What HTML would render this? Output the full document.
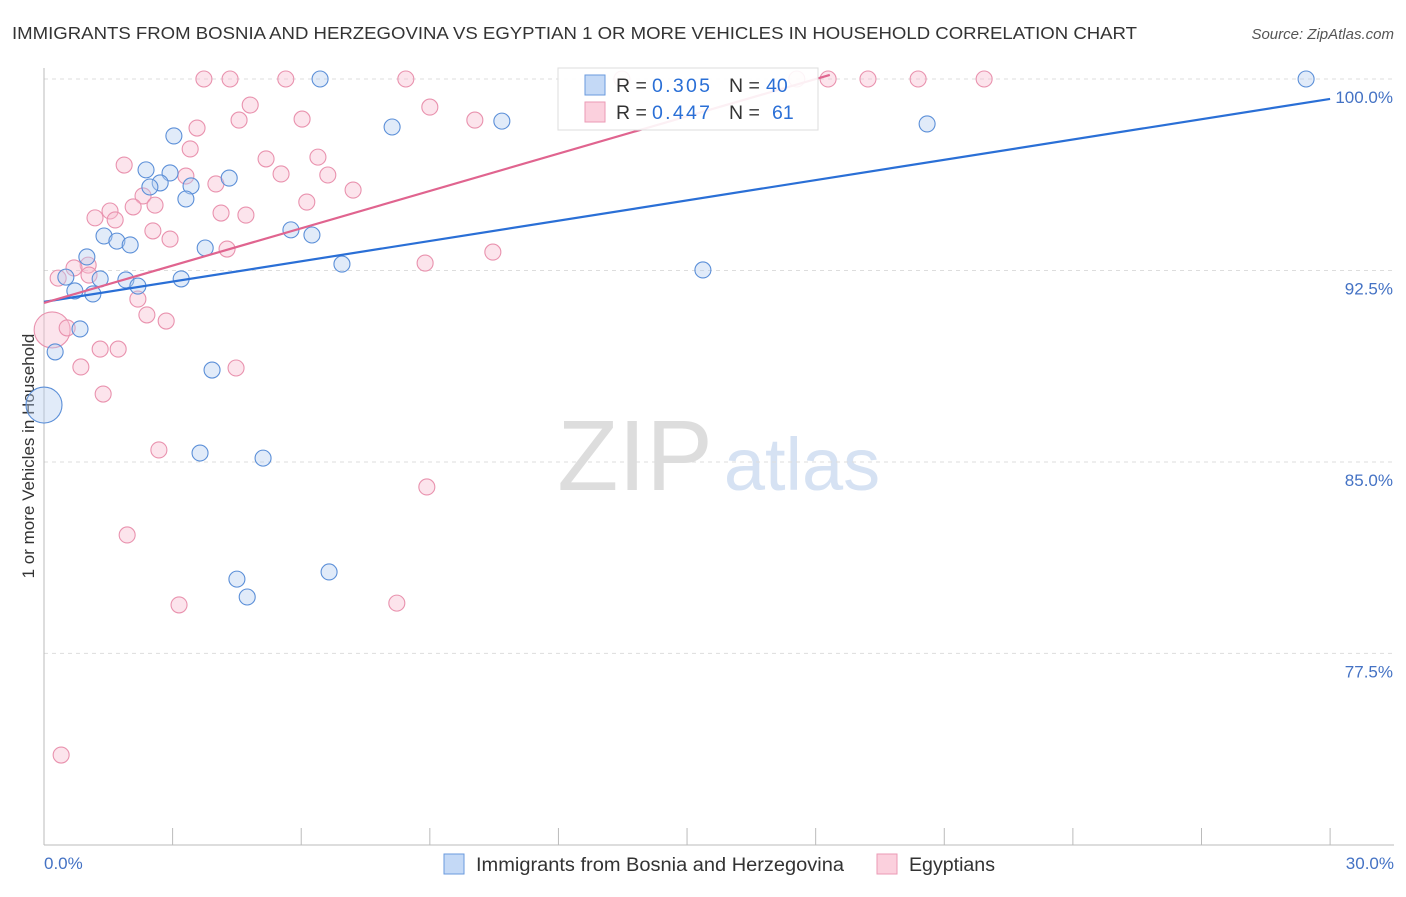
<!DOCTYPE html>
<html><head><meta charset="utf-8"><style>
body{margin:0;background:#fff;font-family:"Liberation Sans",sans-serif;}
svg text{font-family:"Liberation Sans",sans-serif;}
</style></head><body>
<svg id="c" width="1406" height="892" xmlns="http://www.w3.org/2000/svg"></svg>
<script>
const blueX=[6.44,29.44,8.12,10.68,20.6,3.03,2.38,2.94,4.32,2.71,3.43,2.47,3.31,5.76,6.25,1.4,1.7,2.01,3.76,6.95,1.0,15.37,0.51,1.31,1.91,3.2,2.19,0.72,1.14,0.84,0.26,0,3.92,3.64,5.11,4.5,4.74,6.65];
const blueY=[100,100,98.12,98.35,98.24,97.77,96.44,96.32,96.12,95.93,95.81,95.77,95.3,94.09,93.89,93.85,93.65,93.5,93.38,92.75,93.03,92.52,92.24,92.17,92.13,92.17,91.89,91.7,91.58,90.21,89.31,87.23,88.6,85.35,85.15,80.41,79.71,80.69];
const blueBig=[31];
const pinkX=[3.73,4.34,5.64,8.44,13.48,17.56,18.29,19.22,20.39,21.93,4.81,9.0,3.57,4.55,6.02,10.05,3.41,1.87,5.18,6.39,3.31,5.53,6.62,7.21,2.31,4.01,2.59,2.08,1.54,1.19,1.66,4.13,4.71,6.13,2.54,2.94,4.27,10.47,1.03,0.7,0.33,1.05,8.89,2.19,2.4,2.85,0.19,0.54,1.31,1.73,0.86,4.48,1.38,2.68,8.93,1.94,3.15,8.23,0.4];
const pinkY=[100,100,100,100,100,100,100,100,100,100,98.98,98.9,98.08,98.39,98.43,98.39,97.26,96.63,96.87,96.94,96.2,96.28,96.24,95.65,95.42,95.89,95.06,94.99,94.83,94.56,94.48,94.75,94.67,95.18,94.05,93.73,93.34,93.22,92.71,92.6,92.2,92.32,92.79,91.38,90.76,90.52,90.17,90.25,89.42,89.42,88.72,88.68,87.66,85.47,84.02,82.14,79.4,79.47,73.52];
const pinkBig=[46];
const blueLine=[0,91.27,30,99.22];
const pinkLine=[0,91.23,18.33,100.16];
const yTicks=[100,92.5,85,77.5];
const yTickLabels=["100.0%","92.5%","85.0%","77.5%"];
const xTicks=[0,3,6,9,12,15,18,21,24,27,30];

const svg=document.getElementById('c');
const NS='http://www.w3.org/2000/svg';
const X=v=>44+v*42.87, Y=v=>79+(100-v)*25.53;
function mk(t,a,p){const e=document.createElementNS(NS,t);for(const k in a)e.setAttribute(k,a[k]);(p||svg).appendChild(e);return e;}

let t=mk('text',{x:12,y:39,'font-size':17.5,fill:'#333',textLength:1125,lengthAdjust:'spacingAndGlyphs'});

t.textContent='IMMIGRANTS FROM BOSNIA AND HERZEGOVINA VS EGYPTIAN 1 OR MORE VEHICLES IN HOUSEHOLD CORRELATION CHART';
t=mk('text',{x:1394,y:39,'font-size':15,fill:'#555','text-anchor':'end','font-style':'italic'});

t.textContent='Source: ZipAtlas.com';

t=mk('text',{x:635,y:490,'font-size':100,fill:'#ddd','text-anchor':'middle','font-family':'Liberation Serif'});
t.textContent='ZIP';
t=mk('text',{x:802,y:490,'font-size':74,fill:'#d6e2f3','text-anchor':'middle'});
t.textContent='atlas';

yTicks.forEach((v,i)=>{
  let g=mk('line',{x1:44,x2:1394,y1:Y(v),y2:Y(v),stroke:'#ddd','stroke-dasharray':'4,4'});
  
  let l=mk('text',{x:1393,y:Y(v)+24,'font-size':17,fill:'#4472c4','text-anchor':'end'});
  
  l.textContent=yTickLabels[i];
});
let ax=mk('line',{x1:44,x2:44,y1:68,y2:845,stroke:'#bbb'});

ax=mk('line',{x1:44,x2:1394,y1:845,y2:845,stroke:'#bbb'});

xTicks.forEach(v=>{
  let k=mk('line',{x1:X(v),x2:X(v),y1:828,y2:845,stroke:'#bbb'});
  
});
t=mk('text',{x:44,y:869,'font-size':17,fill:'#4472c4'});
t.textContent='0.0%';
t=mk('text',{x:1394,y:869,'font-size':17,fill:'#4472c4','text-anchor':'end'});
t.textContent='30.0%';
t=mk('text',{x:34,y:456,'font-size':17,fill:'#333','text-anchor':'middle',transform:'rotate(-90 34 456)'});
t.textContent='1 or more Vehicles in Household';

function pts(xs,ys,big,fill,stroke,name){
  xs.forEach((v,i)=>{
    const r=big.includes(i)?18:8;
    const c=mk('circle',{cx:X(v),cy:Y(ys[i]),r:r,fill:fill,'fill-opacity':0.4,stroke:stroke,'stroke-width':1.1});
    
    
  });
}
pts(pinkX,pinkY,pinkBig,'#f7bccf','#e992ae','egyptian-point');
pts(blueX,blueY,blueBig,'#b3cdf1','#5b8fd8','bosnia-point');
let ln=mk('line',{x1:X(blueLine[0]),y1:Y(blueLine[1]),x2:X(blueLine[2]),y2:Y(blueLine[3]),stroke:'#2a6fd6','stroke-width':2.2});

ln=mk('line',{x1:X(pinkLine[0]),y1:Y(pinkLine[1]),x2:X(pinkLine[2]),y2:Y(pinkLine[3]),stroke:'#e0648f','stroke-width':2.2});


let lg=mk('rect',{x:558,y:68,width:260,height:62,fill:'#fff','fill-opacity':0.9,stroke:'#ddd'});

function row(y,fill,stroke,r,n,nx,name){
  let s=mk('rect',{x:585,y:y-10,width:20,height:20,fill:fill,stroke:stroke});
  
  let tx=mk('text',{x:616,y:y+7,'font-size':19.5,fill:'#333'});
  
  tx.innerHTML='R = <tspan fill="#2a6fd6" x="652" textLength="58">'+r+'</tspan><tspan x="729">N = </tspan><tspan fill="#2a6fd6" x="'+nx+'">'+n+'</tspan>';
}
row(85,'#c4d9f6','#6a9ade','0.305','40',766,'bosnia-legend');
row(112,'#fbd0dd','#eb9ab5','0.447','61',772,'egyptian-legend');

function bl(x,fill,stroke,label,len,name){
  let s=mk('rect',{x:x,y:854,width:20,height:20,fill:fill,stroke:stroke});
  
  let tx=mk('text',{x:x+32,y:871,'font-size':19,fill:'#333',textLength:len,lengthAdjust:'spacingAndGlyphs'});
  
  tx.textContent=label;
}
bl(444,'#c4d9f6','#6a9ade','Immigrants from Bosnia and Herzegovina',368,'bottom-legend-bosnia');
bl(877,'#fbd0dd','#eb9ab5','Egyptians',86,'bottom-legend-egyptians');
</script>
</body></html>
